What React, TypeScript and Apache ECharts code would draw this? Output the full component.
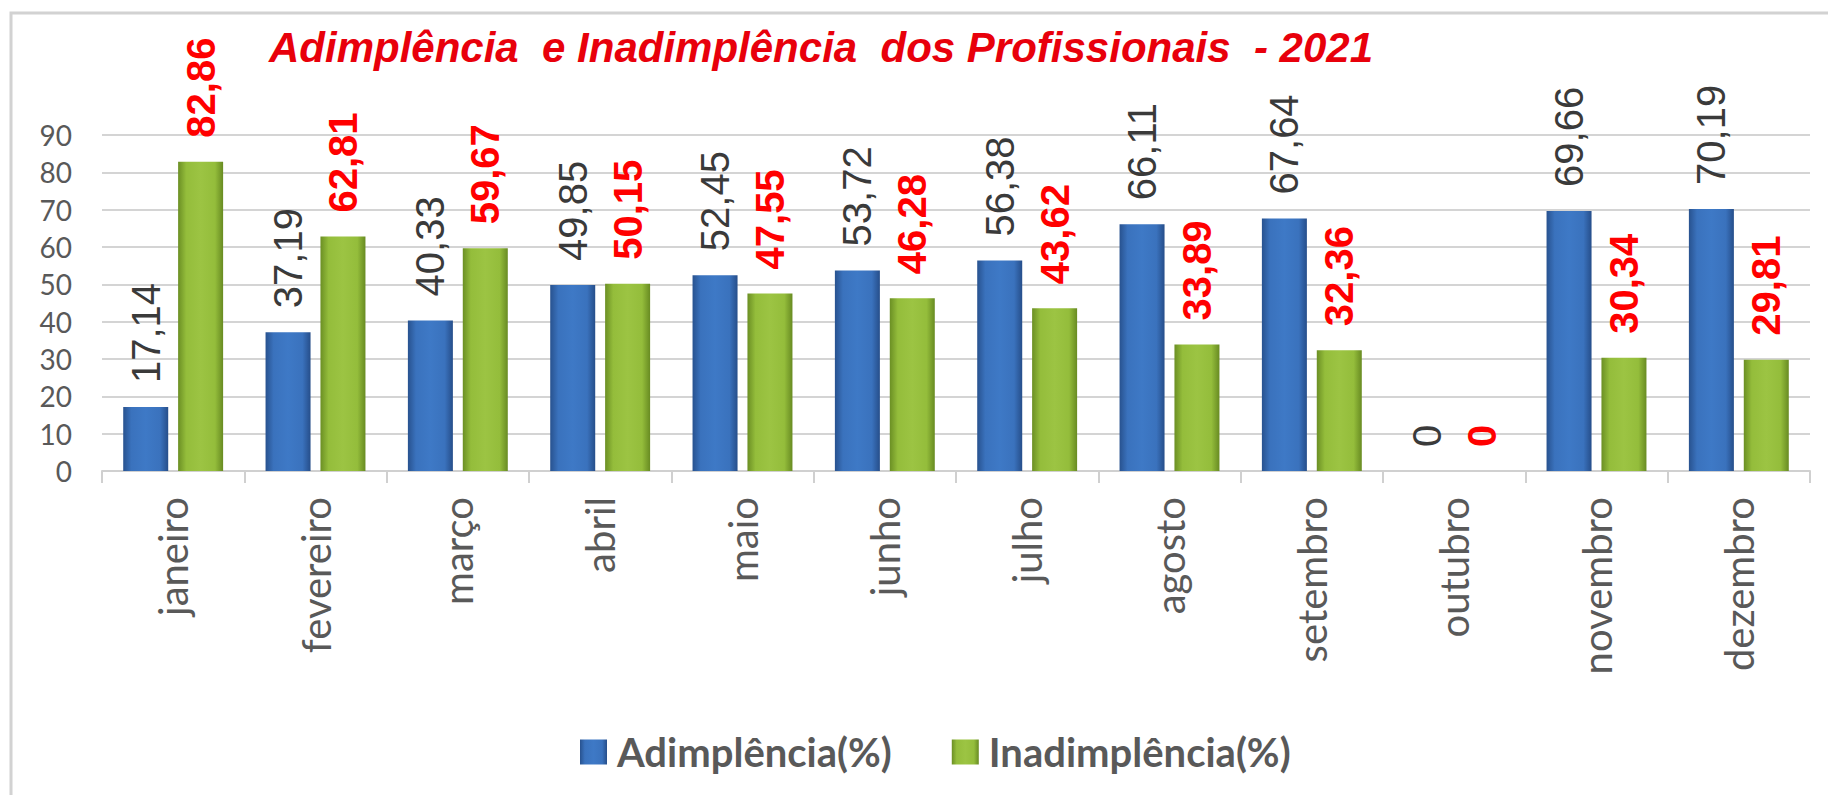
import React, { useEffect, useRef } from "react";
import * as echarts from "echarts";

const months = ["janeiro", "fevereiro", "março", "abril", "maio", "junho", "julho", "agosto", "setembro", "outubro", "novembro", "dezembro"];
const adimplencia = [17.14, 37.19, 40.33, 49.85, 52.45, 53.72, 56.38, 66.11, 67.64, 0, 69.66, 70.19];
const inadimplencia = [82.86, 62.81, 59.67, 50.15, 47.55, 46.28, 43.62, 33.89, 32.36, 0, 30.34, 29.81];
const seriesNames = ["Adimplência(%)", "Inadimplência(%)"];
const titleText = "Adimplência  e Inadimplência  dos Profissionais  - 2021";

const fmt = (v: number) => String(v).replace(".", ",");

export default function App() {
  const ref = useRef<HTMLDivElement>(null);
  useEffect(() => {
    if (!ref.current) return;
    const chart = echarts.init(ref.current, undefined, { renderer: "svg" });
    const blue = new echarts.graphic.LinearGradient(0, 0, 1, 0, [
      { offset: 0, color: "#28528f" },
      { offset: 0.18, color: "#3a72bd" },
      { offset: 0.5, color: "#3e79c6" },
      { offset: 0.82, color: "#3a72bd" },
      { offset: 1, color: "#264e8a" },
    ]);
    const green = new echarts.graphic.LinearGradient(0, 0, 1, 0, [
      { offset: 0, color: "#6b8f24" },
      { offset: 0.18, color: "#94bd3b" },
      { offset: 0.5, color: "#9cc443" },
      { offset: 0.82, color: "#94bd3b" },
      { offset: 1, color: "#688b22" },
    ]);
    const labelBase = {
      show: true,
      position: "top",
      rotate: 90,
      align: "left",
      verticalAlign: "middle",
      distance: 24,
      fontSize: 40,
      fontFamily: "Liberation Sans, Arial, sans-serif",
      formatter: (p: any) => fmt(p.value),
    };
    chart.setOption({
      animation: false,
      backgroundColor: "#ffffff",
      title: {
        text: titleText,
        left: 264,
        top: 21,
        textStyle: {
          fontFamily: "Liberation Sans, Arial, sans-serif",
          fontStyle: "italic",
          fontWeight: "bold",
          fontSize: 42,
          color: "#e8000b",
        },
      },
      graphic: [
        {
          type: "rect",
          shape: { x: 11, y: 13, width: 1900, height: 900 },
          style: { fill: "none", stroke: "#d2d2d2", lineWidth: 3 },
          silent: true,
          z: -1,
        },
      ],
      legend: {
        left: 575,
        top: 727,
        itemWidth: 27,
        itemHeight: 25,
        itemGap: 60,
        icon: "rect",
        textStyle: {
          fontFamily: "Lato, sans-serif",
          fontWeight: "bold",
          fontSize: 40,
          color: "#595959",
          padding: [0, 0, 0, 5],
        },
        data: seriesNames,
      },
      grid: { left: 102, right: 18, top: 135, bottom: 324 },
      xAxis: {
        type: "category",
        data: months,
        axisLine: { lineStyle: { color: "#d0d0d0", width: 2 } },
        axisTick: { show: true, length: 12, lineStyle: { color: "#d0d0d0", width: 2 } },
        axisLabel: {
          rotate: 90,
          margin: 26,
          fontFamily: "Lato, sans-serif",
          fontSize: 40,
          color: "#595959",
          interval: 0,
        },
      },
      yAxis: {
        type: "value",
        min: 0,
        max: 90,
        interval: 10,
        axisLine: { show: false },
        axisTick: { show: false },
        splitLine: { lineStyle: { color: "#d4d4d4", width: 2 } },
        axisLabel: {
          margin: 30,
          fontFamily: "Lato, sans-serif",
          fontSize: 28,
          color: "#595959",
        },
      },
      series: [
        {
          name: seriesNames[0],
          type: "bar",
          data: adimplencia,
          barWidth: 45,
          barGap: "22%",
          itemStyle: { color: blue, borderWidth: 0 },
          label: { ...labelBase, color: "#3a3a3a" },
        },
        {
          name: seriesNames[1],
          type: "bar",
          data: inadimplencia,
          barWidth: 45,
          barGap: "22%",
          itemStyle: { color: green, borderWidth: 0 },
          label: { ...labelBase, color: "#ff0000", fontWeight: "bold" },
        },
      ],
    });
    return () => chart.dispose();
  }, []);
  return (
    <div
      ref={ref}
      style={{ position: "fixed", left: 0, top: 0, width: 1828, height: 795 }}
    />
  );
}
